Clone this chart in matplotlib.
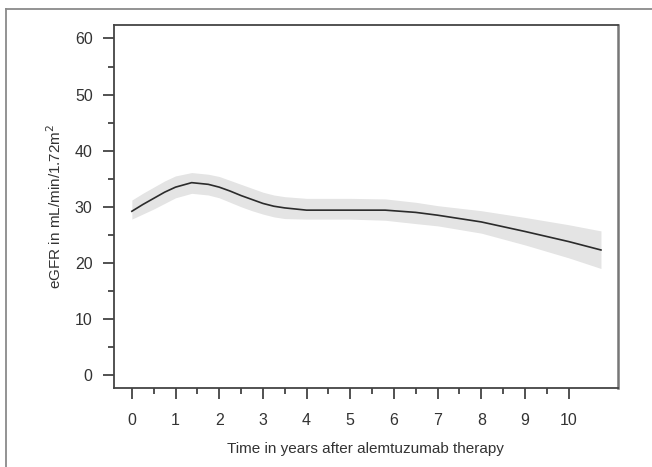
import matplotlib.pyplot as plt
from matplotlib.lines import Line2D

plt.rcParams['font.family'] = ['Liberation Sans', 'DejaVu Sans']

# values
years = [0, 0.25, 0.5, 0.75, 1.0, 1.37, 1.75, 2.0, 2.25, 2.5, 2.75, 3.0, 3.25, 3.5,
         4.0, 5.0, 5.8, 6.5, 7.0, 8.0, 9.0, 10.0, 10.74]
egfr = [29.2, 30.4, 31.5, 32.6, 33.5, 34.3, 34.0, 33.5, 32.8, 32.0, 31.3, 30.6, 30.1, 29.8,
        29.4, 29.4, 29.4, 29.0, 28.5, 27.3, 25.6, 23.8, 22.3]
upper = [31.2, 32.4, 33.5, 34.6, 35.5, 36.1, 35.8, 35.4, 34.7, 34.0, 33.3, 32.6, 32.1, 31.8,
         31.5, 31.5, 31.4, 30.8, 30.2, 29.3, 28.1, 26.8, 25.7]
lower = [27.8, 28.7, 29.6, 30.6, 31.6, 32.4, 32.1, 31.6, 30.8, 30.0, 29.3, 28.7, 28.2, 27.9,
         27.8, 27.8, 27.6, 27.0, 26.6, 25.3, 23.2, 20.9, 19.0]
xticks = list(range(0, 11))
yticks = [0, 10, 20, 30, 40, 50, 60]

fig = plt.figure(figsize=(6.52, 4.67), dpi=100)
ax = fig.add_axes([113.5/652, 1-388/467, (618-113.5)/652, (388-25)/467])

ax.fill_between(years, lower, upper, color='#e4e4e4', lw=0)
ax.plot(years, egfr, color='#2b2b2b', lw=1.2)

ax.set_xlim(-0.42, 11.13)
ax.set_ylim(-2.3, 62.4)
ax.set_xticks(xticks)
ax.set_yticks(yticks)
ax.set_xticks([x + 0.5 for x in xticks[:-1]], minor=True)
ax.set_yticks([y + 5 for y in yticks[:-1]], minor=True)

ax.tick_params(which='major', length=8, width=1.2, color='#333333',
               labelsize=11.5, labelcolor='#333333')
ax.tick_params(axis='y', which='major', pad=7)
ax.tick_params(axis='x', which='major', pad=10)
ax.tick_params(which='minor', length=4, width=1.2, color='#333333')
for s in ax.spines.values():
    s.set_color('#444444')
    s.set_linewidth(1.3)
ax.spines['right'].set_color('#777777')
ax.spines['right'].set_linewidth(1.8)

ax.set_xlabel('Time in years after alemtuzumab therapy', fontsize=11, color='#333333', labelpad=10)
ax.set_ylabel('eGFR in mL/min/1.72m$^2$', fontsize=11, color='#333333', labelpad=8)

# outer frame of the image
fig.add_artist(Line2D([6/652, 1], [1-8.5/467, 1-8.5/467], color='#8a8a8a', lw=1.3))
fig.add_artist(Line2D([6/652, 6/652], [0, 1-8.5/467], color='#8a8a8a', lw=1.3))

fig.savefig('out.png', dpi=100)
